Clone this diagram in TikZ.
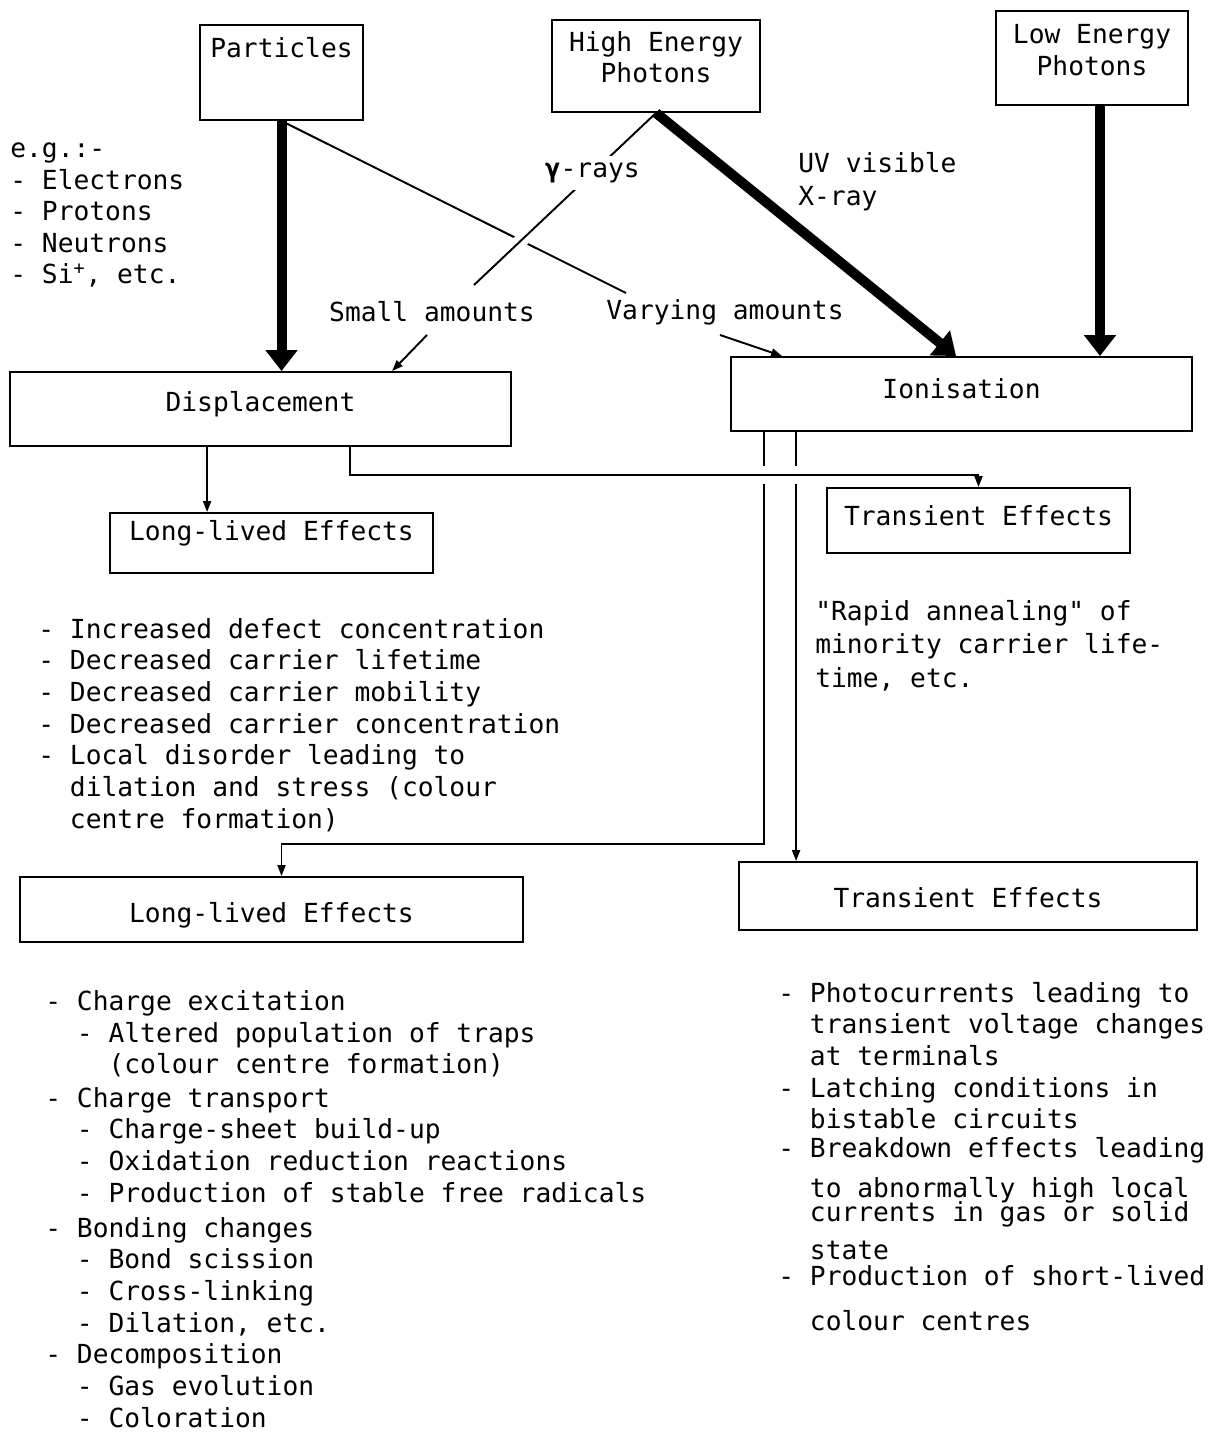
\documentclass[tikz,border=0pt]{standalone}
\usepackage{fontspec}
\usepackage{tikz}
\usetikzlibrary{positioning,calc,arrows.meta}
\newfontfamily\typer{DejaVu Sans Mono}
\tikzset{
    effect-box/.style = {draw, line width=1.1pt, rectangle, inner sep=0pt, text height=0.4cm, font=\typer\fontsize{14.95}{18}\selectfont},
    box-title/.style = {inner sep=0pt, align=center, font=\typer\fontsize{14.95}{18}\selectfont},
    note-text/.style = {inner sep=0pt, align=left, font=\typer\fontsize{14.95}{18}\selectfont},
    heavy-arrow/.style = {line width=0.2cm, -{Triangle[length=0.42cm, width=0.62cm]}},
    light-arrow/.style = {line width=1.1pt, -{Triangle[length=0.22cm, width=0.16cm]}},
    light-line/.style = {line width=1.1pt},
}
\begin{document}
\begin{tikzpicture}[x=0.02cm, y=-0.02cm]
\useasboundingbox (0,0) rectangle (1217,1435);

% sources
\node [effect-box, minimum width=3.26cm, minimum height=1.9cm] (part) at (281.5,72.5) {};
\node [box-title, below=0.26cm] (part-t) at (part.north) {Particles};
\node [effect-box, minimum width=4.16cm, minimum height=1.84cm] (hep) at (656,66) {};
\node [box-title, below=0.24cm] (hep-t) at (hep.north) {High Energy\\Photons};
\node [effect-box, minimum width=3.84cm, minimum height=1.88cm] (lep) at (1092,58) {};
\node [box-title, below=0.28cm] (lep-t) at (lep.north) {Low Energy\\Photons};

% (base of a list = its last line)
\node [note-text, anchor=base west] (eg) at (10,284) {e.g.:-\\- Electrons\\- Protons\\- Neutrons\\- Si\textsuperscript{+}, etc.};

% processes
\node [effect-box, minimum width=10.02cm, minimum height=1.48cm, text depth=0.3cm] (disp) at (260.5,409) {Displacement};
\node [effect-box, minimum width=9.22cm, minimum height=1.48cm, text depth=0.22cm] (ion) at (961.5,394) {Ionisation};

% effects
\node [effect-box, minimum width=6.46cm, minimum height=1.2cm, text depth=0.5cm] (long1) at (271.5,543) {Long-lived Effects};
\node [effect-box, minimum width=6.06cm, minimum height=1.3cm, text depth=0.2cm] (trans1) at (978.5,520.5) {Transient Effects};
\node [effect-box, minimum width=10.06cm, minimum height=1.3cm, text height=0.52cm, text depth=0cm] (long2) at (271.5,909.5) {Long-lived Effects};
\node [effect-box, minimum width=9.16cm, minimum height=1.36cm, text height=0.46cm, text depth=0cm] (trans2) at (968,896) {Transient Effects};

% labels on the connectors
\node [note-text, anchor=base] (small) at (432,322) {Small amounts};
\node [note-text, anchor=base] (vary) at (725,320) {Varying amounts};
\node [note-text, anchor=base west] (uv) at (798,206) {UV visible\\[1.3pt]X-ray};

\coordinate (vary-in) at (626,293);
\coordinate (vary-out) at (720,335);
\coordinate (small-in) at (474,285);
\coordinate (small-out) at (427,335);

\draw [heavy-arrow] (part.south) -- (part.south |- disp.north);
\draw [heavy-arrow] ($(lep.south)+(8,0)$) -- ($(lep.south |- ion.north)+(8,0)$);
\draw [light-line] (part.south) -- (vary-in);
\draw [light-arrow] (vary-out) -- ($(ion.north west)+(52,0)$);
\draw [light-line, preaction={draw, white, line width=8pt, shorten <=1.5cm, shorten >=0.6cm}] (hep.south) -- (small-in)
    node [note-text, pos=0.35, fill=white, inner sep=4pt] (gamma) {{\bfseries γ}-rays};
\draw [light-arrow] (small-out) -- ($(disp.north west)+(383,0)$);
\draw [heavy-arrow] (hep.south) -- ($(ion.north west)+(226,0)$);

% down to the effects
\coordinate (disp-a) at ($(disp.south west)+(198,0)$);
\coordinate (disp-b) at ($(disp.south west)+(341,0)$);
\coordinate (ion-a) at ($(ion.south west)+(34,0)$);
\coordinate (ion-b) at ($(ion.south west)+(66,0)$);
\draw [light-arrow] (ion-a) -- ++(0,412) -| ($(long2.north)+(10,0)$);
\draw [light-arrow] (ion-b) -- (ion-b |- trans2.north);
\draw [light-arrow] (disp-a) -- (disp-a |- long1.north);
\fill [white] ($(ion-a)+(-6,34)$) rectangle ($(ion-b)+(6,52)$);
\draw [light-arrow] (disp-b) -- ++(0,28) -| (trans1.north);

% lists of effects
\node [note-text, anchor=base west] (disp-notes) at (38,828) {- Increased defect concentration\\- Decreased carrier lifetime\\- Decreased carrier mobility\\- Decreased carrier concentration\\- Local disorder leading to\\\ \ dilation and stress (colour\\\ \ centre formation)};
\node [note-text, anchor=base west] (anneal) at (815,687) {"Rapid annealing" of\\[1pt]minority carrier life-\\[1pt]time, etc.};
\node [note-text, anchor=base west] (long-notes) at (45,1427) {- Charge excitation\\\ \ - Altered population of traps\\\ \ \ \ (colour centre formation)\\[1pt]- Charge transport\\\ \ - Charge-sheet build-up\\\ \ - Oxidation reduction reactions\\\ \ - Production of stable free radicals\\[2pt]- Bonding changes\\\ \ - Bond scission\\\ \ - Cross-linking\\\ \ - Dilation, etc.\\- Decomposition\\\ \ - Gas evolution\\\ \ - Coloration};
\node [note-text, anchor=base west] (trans-notes) at (778,1330) {- Photocurrents leading to\\\ \ transient voltage changes\\\ \ at terminals\\- Latching conditions in\\\ \ bistable circuits\\[-1.5pt]- Breakdown effects leading\\[4.8pt]\ \ to abnormally high local\\[-4.3pt]\ \ currents in gas or solid\\[3.1pt]\ \ state\\[-3.2pt]- Production of short-lived\\[7.6pt]\ \ colour centres};
\end{tikzpicture}
\end{document}
